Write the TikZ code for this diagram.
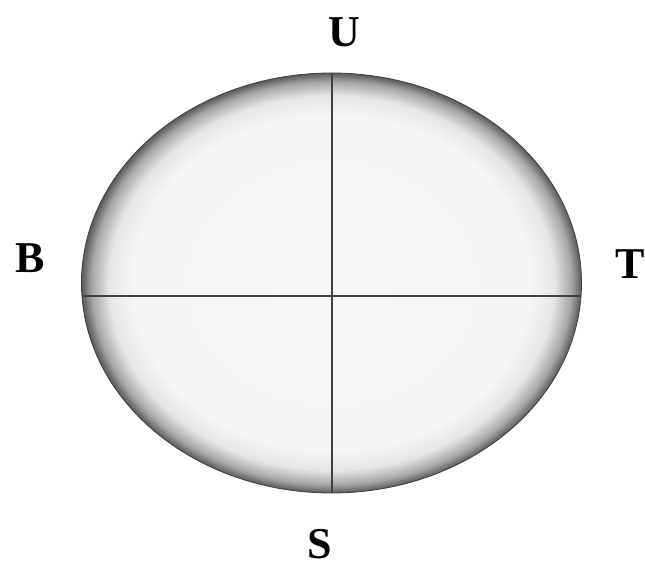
\documentclass[tikz,border=0pt]{standalone}
\usepackage{fontspec}
\setmainfont{Liberation Serif}
\pgfdeclareradialshading{rimshade}{\pgfpoint{0bp}{0bp}}{%
  color(0bp)=(black!3);
  color(20bp)=(black!4);
  color(22.3bp)=(black!10);
  color(24bp)=(black!35);
  color(25bp)=(black!65);
  color(50bp)=(black!65)}
\tikzset{
  lbl/.style={font=\fontsize{44}{48}\selectfont\bfseries, inner sep=0pt},
  axis/.style={draw=black!75, line width=1.2pt},
}
\begin{document}
\begin{tikzpicture}[x=1pt,y=-1pt]
\useasboundingbox[fill=white] (0,0) rectangle (645,569);
\coordinate (c) at (331.5,283);
\shade[shading=rimshade] (c) ellipse [x radius=250, y radius=210];
\draw[black!75, line width=0.8pt] (c) ellipse [x radius=250, y radius=210];
\coordinate (top) at (332,73);
\coordinate (bot) at (332,493);
\coordinate (lft) at (82,296);
\coordinate (rgt) at (581,296);
\draw[axis] (top) -- (bot);
\draw[axis] (lft) -- (rgt);
\node[lbl] (U) at (344,32) {U};
\node[lbl] (B) at (30,258) {B};
\node[lbl] (T) at (630,264) {T};
\node[lbl] (S) at (320,544) {S};
\end{tikzpicture}
\end{document}
